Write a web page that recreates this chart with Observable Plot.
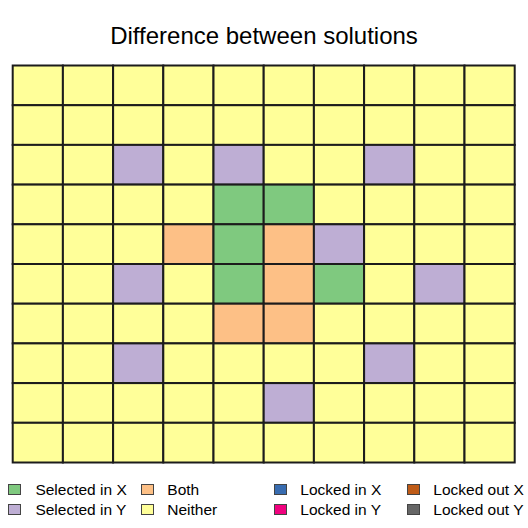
<!DOCTYPE html>
<html>
<head>
<meta charset="utf-8">
<script src="https://cdn.jsdelivr.net/npm/d3@7"></script>
<script src="https://cdn.jsdelivr.net/npm/@observablehq/plot@0.6"></script>
<style>
  html, body { margin: 0; padding: 0; background: #fff; }
  #root { position: relative; width: 528px; height: 528px; font-family: "Liberation Sans", Arial, sans-serif; color: #000; }
  #title { position: absolute; left: 0; top: 24px; width: 528px; text-align: center; font-size: 24px; line-height: 24px; }
  #plot { position: absolute; left: 0; top: 63px; line-height: 0; }
  #plot svg { display: block; }
  .lg { position: absolute; font-size: 15.5px; line-height: 16px; white-space: nowrap; }
  .sw { position: absolute; width: 11px; height: 9px; border: 1px solid #444; }
</style>
</head>
<body>
<div id="root">
  <div id="title">Difference between solutions</div>
  <div id="plot"></div>
</div>
<script>
const categories = ["Selected in X", "Selected in Y", "Both", "Neither", "Locked in X", "Locked in Y", "Locked out X", "Locked out Y"];
const categoryColors = ["#7fc97f", "#beaed4", "#fdc086", "#ffff99", "#386cb0", "#f0027f", "#bf5b17", "#666666"];
const codes = {X: "Selected in X", Y: "Selected in Y", B: "Both", N: "Neither"};
// grid rows from top to bottom, columns left to right
const gridRows = [
  "NNNNNNNNNN",
  "NNNNNNNNNN",
  "NNYNYNNYNN",
  "NNNNXXNNNN",
  "NNNBXBYNNN",
  "NNYNXBXNYN",
  "NNNNBBNNNN",
  "NNYNNNNYNN",
  "NNNNNYNNNN",
  "NNNNNNNNNN"
];

const cells = [];
gridRows.forEach((r, i) => r.split("").forEach((c, j) => cells.push({row: i, col: j, status: codes[c]})));

const plot = Plot.plot({
  width: 528,
  height: 402.5,
  marginTop: 2.5,
  marginBottom: 3,
  marginLeft: 12.7,
  marginRight: 13.3,
  x: {type: "band", domain: d3.range(10), padding: 0, round: false, axis: null},
  y: {type: "band", domain: d3.range(10), padding: 0, round: false, axis: null},
  color: {type: "ordinal", domain: categories, range: categoryColors},
  marks: [
    Plot.cell(cells, {x: "col", y: "row", fill: "status", stroke: "#1c1c1c", strokeWidth: 2, inset: 0})
  ]
});
document.getElementById("plot").appendChild(plot);

// legend (column-major, two rows)
const root = document.getElementById("root");
const colX = [8.4, 141.4, 274.4, 407.4];
const textX = [35.4, 167.3, 300.3, 433.3];
const rowY = [484, 503.5];
categories.forEach((c, k) => {
  const ci = Math.floor(k / 2), ri = k % 2;
  const sw = document.createElement("div");
  sw.className = "sw";
  sw.style.left = colX[ci] + "px";
  sw.style.top = rowY[ri] + "px";
  sw.style.background = plot.scale("color").apply(c);
  root.appendChild(sw);
  const t = document.createElement("div");
  t.className = "lg";
  t.style.left = textX[ci] + "px";
  t.style.top = (rowY[ri] - 2) + "px";
  t.textContent = c;
  root.appendChild(t);
});
</script>
</body>
</html>
